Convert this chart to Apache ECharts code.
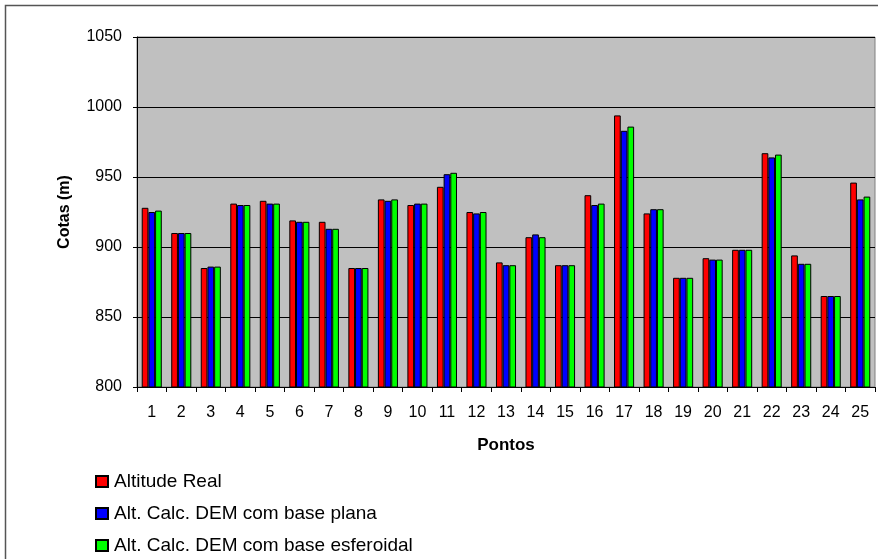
<!DOCTYPE html>
<html><head><meta charset="utf-8">
<script src="https://cdn.jsdelivr.net/npm/echarts@6/dist/echarts.min.js"></script>
<style>html,body{margin:0;padding:0;background:#fff}#c{width:878px;height:559px}</style>
</head><body><div id="c"></div>
<script>
const categories = ['1','2','3','4','5','6','7','8','9','10','11','12','13','14','15','16','17','18','19','20','21','22','23','24','25'];
const altitudeReal = [928,910,885,931,933,919,918,885,934,930,943,925,889,907,887,937,994,924,878,892,898,967,894,865,946];
const demPlana =     [925,910,886,930,931,918,913,885,933,931,952,924,887,909,887,930,983,927,878,891,898,964,888,865,934];
const demEsferoidal =[926,910,886,930,931,918,913,885,934,931,953,925,887,907,887,931,986,927,878,891,898,966,888,865,936];
const seriesNames = ['Altitude Real','Alt. Calc. DEM com base plana','Alt. Calc. DEM com base esferoidal'];
const yTicks = {min:800, max:1050, interval:50};

const font = 'Liberation Sans, Arial, sans-serif';
const chart = echarts.init(document.getElementById('c'), null, {renderer:'canvas'});
const colors = ['#ff0000','#0000ff','#00ff00'];
const data = [altitudeReal, demPlana, demEsferoidal];
chart.setOption({
  animation:false,
  backgroundColor:'#ffffff',
  textStyle:{fontFamily:font},
  graphic:[{type:'polyline', shape:{points:[[5.5,559],[5.5,5.5],[878,5.5]]}, style:{stroke:'#555',lineWidth:1.5,fill:null}, z:10}],
  grid:{left:137, top:37, right:3, bottom:172, show:true, backgroundColor:'#c0c0c0', borderColor:'#808080', borderWidth:1},
  legend:{orient:'vertical', left:95, top:472, padding:0, height:90, width:420, itemWidth:12, itemHeight:11, itemGap:13, icon:'rect',
    textStyle:{fontFamily:font, fontSize:19, lineHeight:19, color:'#000', padding:[0,0,0,1]}, data:seriesNames},
  xAxis:{type:'category', data:categories, name:'Pontos', nameLocation:'middle', nameGap:50,
    nameTextStyle:{fontFamily:font, fontSize:17, fontWeight:'bold', color:'#000'},
    axisLine:{lineStyle:{color:'#000',width:1}}, axisTick:{show:true, length:5, lineStyle:{color:'#000'}},
    axisLabel:{fontFamily:font, fontSize:16, color:'#000', margin:18}, splitLine:{show:false}},
  yAxis:{type:'value', min:yTicks.min, max:yTicks.max, interval:yTicks.interval, name:'Cotas (m)', nameLocation:'middle', nameGap:64,
    nameTextStyle:{fontFamily:font, fontSize:16, fontWeight:'bold', color:'#000'},
    axisLine:{show:true, lineStyle:{color:'#000',width:1}}, axisTick:{show:true, length:4, lineStyle:{color:'#000'}},
    axisLabel:{fontFamily:font, fontSize:16, color:'#000', margin:15, formatter:v=>String(v)},
    splitLine:{show:true, lineStyle:{color:'#000',width:1}}},
  series: seriesNames.map((n,i)=>({name:n, type:'bar', data:data[i], barGap:'0%', barCategoryGap:'32%',
    itemStyle:{color:colors[i], borderColor:'#000', borderWidth:1}}))
});
</script></body></html>
